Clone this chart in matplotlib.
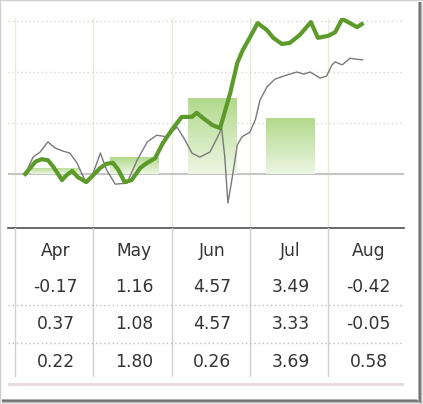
import numpy as np
import matplotlib.pyplot as plt
from matplotlib.patches import Rectangle
from matplotlib.lines import Line2D

months = ['Apr', 'May', 'Jun', 'Jul', 'Aug']
row1 = ['-0.17', '1.16', '4.57', '3.49', '-0.42']
row2 = ['0.37', '1.08', '4.57', '3.33', '-0.05']
row3 = ['0.22', '1.80', '0.26', '3.69', '0.58']
bar_vals = [0.12, 0.33, 1.50, 1.09, 0.0]

# x in month units (0 = start of Apr)
green_x = [0.13, 0.26, 0.34, 0.42, 0.49, 0.60, 0.66, 0.73, 0.80, 0.91, 1.00, 1.09, 1.17, 1.25,
           1.32, 1.40, 1.49, 1.60, 1.69, 1.79, 1.89, 2.02, 2.13, 2.26, 2.32, 2.40, 2.52, 2.62,
           2.75, 2.84, 2.91, 3.03, 3.10, 3.22, 3.30, 3.41, 3.51, 3.64, 3.78, 3.87, 4.00, 4.09,
           4.18, 4.28, 4.37, 4.43]
green_y = [0.0, 0.24, 0.29, 0.27, 0.14, -0.12, -0.02, 0.06, -0.06, -0.16, -0.02, 0.12, 0.20, 0.22,
           0.08, -0.16, -0.12, 0.12, 0.22, 0.31, 0.61, 0.90, 1.12, 1.12, 1.20, 1.10, 0.96, 0.90,
           1.59, 2.18, 2.43, 2.76, 2.96, 2.82, 2.67, 2.55, 2.57, 2.73, 2.98, 2.67, 2.71, 2.78,
           3.04, 2.96, 2.88, 2.94]
gray_x = [0.13, 0.23, 0.32, 0.42, 0.51, 0.61, 0.70, 0.79, 0.91, 0.98, 1.09, 1.17, 1.28, 1.43,
          1.56, 1.69, 1.81, 1.94, 2.07, 2.17, 2.26, 2.36, 2.49, 2.59, 2.64, 2.68, 2.72, 2.77,
          2.84, 2.90, 3.00, 3.07, 3.13, 3.22, 3.32, 3.47, 3.60, 3.69, 3.77, 3.90, 3.98, 4.05,
          4.09, 4.18, 4.28, 4.37, 4.44]
gray_y = [0.0, 0.33, 0.43, 0.63, 0.51, 0.45, 0.41, 0.22, -0.18, -0.06, 0.41, 0.08, -0.20, -0.18,
          0.27, 0.63, 0.76, 0.73, 0.92, 0.67, 0.41, 0.33, 0.43, 0.73, 0.90, 0.33, -0.57, -0.12,
          0.57, 0.73, 0.82, 1.06, 1.45, 1.71, 1.86, 1.94, 2.00, 1.96, 2.00, 1.88, 1.92, 2.14,
          2.20, 2.14, 2.27, 2.25, 2.24]

W, H = 423, 404
fig = plt.figure(figsize=(W / 100, H / 100), dpi=100)
fig.patch.set_facecolor('white')

def fx(px):
    return px / W

def fy(py):
    return 1 - py / H

xlim = (-0.09, 4.97)
ax = fig.add_axes([fx(8), fy(228), fx(404) - fx(8), fy(18) - fy(228)])
ax.set_xlim(*xlim)
ax.set_ylim(-1.06, 3.06)
for s in ['top', 'left', 'right']:
    ax.spines[s].set_visible(False)
ax.spines['bottom'].set_color('#505050')
ax.spines['bottom'].set_linewidth(1.2)
ax.set_xticks([])
ax.set_yticks([])

for i in range(5):
    ax.axvline(i, color='#ebebdc', lw=1, zorder=0)
for v in [1, 2, 3]:
    ax.axhline(v, color='#d8d8cc', lw=1, ls=(0, (1, 2)), zorder=0)
ax.axhline(0, color='#c4c4c4', lw=1.5, zorder=1)

# bars with vertical gradient
grad = np.linspace(0, 1, 100).reshape(-1, 1)
cmap = plt.matplotlib.colors.LinearSegmentedColormap.from_list('g', ['#ecf6e2', '#b2d98c'])
bars = ax.bar([i + 0.52 for i in range(5)], bar_vals, width=0.62, color='none', zorder=2)
for b in bars:
    h = b.get_height()
    if h <= 0:
        continue
    x0 = b.get_x()
    im = ax.imshow(grad, extent=[x0, x0 + b.get_width(), 0, h], origin='lower',
                   cmap=cmap, aspect='auto', zorder=2)
    im.set_clip_path(b)
ax.set_xlim(*xlim)
ax.set_ylim(-1.06, 3.06)

ax.plot(gray_x, gray_y, color='#7a7a7a', lw=1.0, zorder=3)
ax.plot(green_x, green_y, color='#5c9a2a', lw=3.0, zorder=4, solid_joinstyle='round')

# table below the chart
tab = fig.add_axes([fx(8), fy(392), fx(404) - fx(8), fy(228) - fy(392)])
tab.set_xlim(*xlim)
tab.set_ylim(392, 228)
tab.axis('off')
for i in range(5):
    tab.plot([i, i], [228, 376], color='#cfcfcf', lw=1)
for y in [305, 343]:
    tab.plot(list(xlim), [y, y], color='#bdbdbd', lw=1, ls=(0, (1, 2)))
tab.plot(list(xlim), [384, 384], color='#e6dada', lw=2)

rows = [months, row1, row2, row3]
row_y = [251, 287, 324, 362]
for r, y in zip(rows, row_y):
    for i, t in enumerate(r):
        tab.text(i + 0.52, y, t, ha='center', va='center', fontsize=12.3,
                 color='#333333', family='DejaVu Sans')

# frame and shadow
fig.add_artist(Line2D([0, 0], [0, 1], transform=fig.transFigure, color='#d0d0d0', lw=1))
fig.add_artist(Line2D([0, 1], [1, 1], transform=fig.transFigure, color='#d0d0d0', lw=1))
shade = ['#b0b0b0', '#707070', '#808080', '#b8b8b8', '#e6e6e6']
for k, c in enumerate(shade):
    fig.add_artist(Rectangle((fx(418 + k), fy(404)), fx(1), fy(2) - fy(404) , transform=fig.transFigure,
                             color=c, lw=0))
    fig.add_artist(Rectangle((fx(2), fy(399 + k + 1)), fx(417 + k) - fx(2), fx(0) + 1 / H,
                             transform=fig.transFigure, color=c, lw=0))

fig.savefig('out.png', dpi=100)
